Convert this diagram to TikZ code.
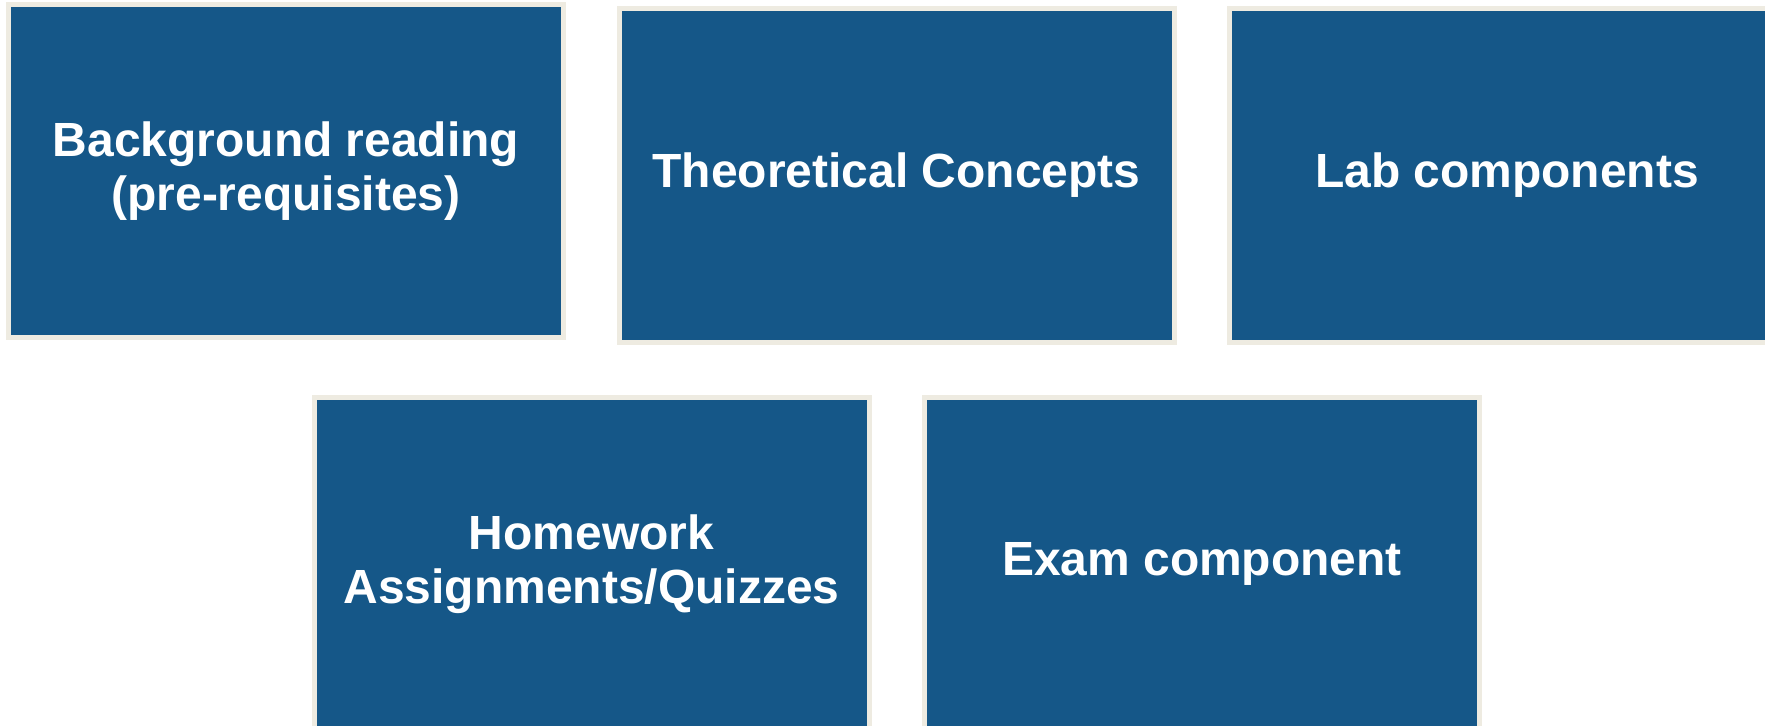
\documentclass[tikz,border=0pt]{standalone}
\usepackage{fontspec}
\setmainfont{Liberation Sans}
\usetikzlibrary{positioning}
\definecolor{boxblue}{RGB}{21,87,136}
\definecolor{boxrim}{RGB}{238,235,225}

\begin{document}
\begin{tikzpicture}[
        topic/.style={rectangle, fill=boxblue, draw=boxrim, line width=0.1cm,
            minimum width=11.1cm, minimum height=6.66cm, inner sep=0pt,
            align=center, text=white, font=\fontsize{27.3}{30.5}\selectfont\bfseries}]
            \useasboundingbox (0,0) rectangle (35.3,-14.52);
            \clip (0,0) rectangle (35.3,-14.52);% keep the cut boxes inside the page

            \node[topic] (reading)  at (5.72,-3.42)  {Background reading\\(pre-requisites)};
            \node[topic] (theory)   at (17.93,-3.51) {Theoretical Concepts};
            \node[topic] (lab)      at (30.14,-3.51) {Lab components};
            \node[topic] (homework) at (11.83,-11.28) {Homework\\Assignments/Quizzes};
            \node[topic] (exam)     at (24.04,-11.28) {Exam component};
        \end{tikzpicture}
\end{document}
